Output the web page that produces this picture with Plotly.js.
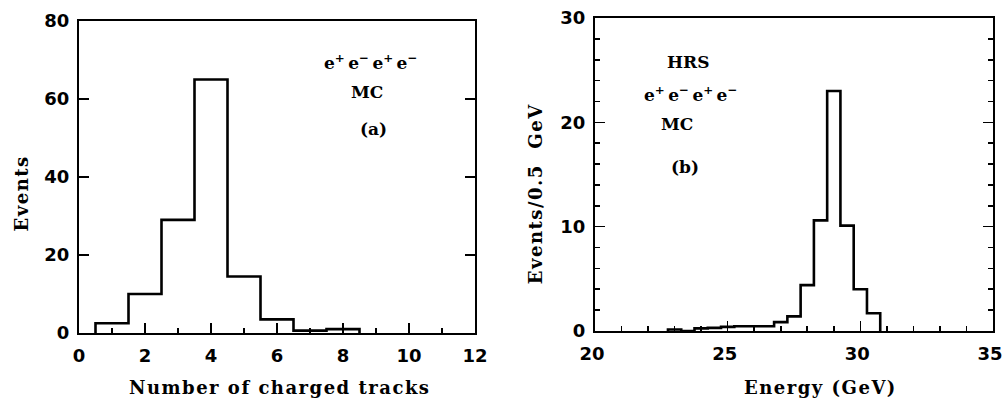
<!DOCTYPE html>
<html>
<head>
<meta charset="utf-8">
<script src="https://cdn.plot.ly/plotly-3.0.1.min.js"></script>
<style>
html,body{margin:0;padding:0;background:#fff;}
#chart{width:1004px;height:399px;}
#chart .annotation[data-index="7"] text,
#chart .annotation[data-index="8"] text,
#chart .annotation[data-index="9"] text,
#chart .annotation[data-index="10"] text { letter-spacing: 1.5px; }
</style>
</head>
<body>
<div id="chart"></div>
<script>
// Panel (a): number of charged tracks
const tracksCenters = [1, 2, 3, 4, 5, 6, 7, 8];
const tracksEvents  = [2.5, 10, 29, 65, 14.5, 3.5, 0.6, 1.0];
const tracksBinWidth = 1;

// Panel (b): energy (GeV), 0.5 GeV bins
const energyCenters = [23.0, 23.5, 24.0, 24.5, 25.0, 25.5, 26.0, 26.5, 27.0, 27.5, 28.0, 28.5, 29.0, 29.5, 30.0, 30.5];
const energyEvents  = [0.15, 0.0, 0.25, 0.3, 0.4, 0.45, 0.45, 0.45, 0.85, 1.4, 4.4, 10.6, 23, 10.1, 4.0, 1.7];
const energyBinWidth = 0.5;

// Axis titles
const titleA_x = 'Number of charged tracks';
const titleA_y = 'Events';
const titleB_x = 'Energy (GeV)';
const titleB_y = 'Events/0.5\u00a0\u00a0GeV';

function stepLine(centers, values, w) {
  const x = [centers[0] - w / 2];
  const y = [0];
  centers.forEach((c, i) => { x.push(c - w / 2); y.push(values[i]); });
  x.push(centers[centers.length - 1] + w / 2); y.push(0);
  return {x, y};
}

const a = stepLine(tracksCenters, tracksEvents, tracksBinWidth);
const b = stepLine(energyCenters, energyEvents, energyBinWidth);

const lineStyle = {color: '#000', width: 2.6, shape: 'hv'};
const traces = [
  {x: a.x, y: a.y, xaxis: 'x', yaxis: 'y', type: 'scatter', mode: 'lines', line: lineStyle, hoverinfo: 'skip', cliponaxis: false},
  {x: b.x, y: b.y, xaxis: 'x2', yaxis: 'y2', type: 'scatter', mode: 'lines', line: lineStyle, hoverinfo: 'skip', cliponaxis: false}
];

const tickFont = {family: 'DejaVu Sans', size: 18, color: '#000', weight: 'bold'};
const titleFont = {family: 'DejaVu Serif', size: 18, color: '#000', weight: 'bold'};
const annFont = {family: 'DejaVu Serif', size: 17, color: '#000', weight: 'bold'};

const W = 1004, H = 399;
const axBase = {showgrid: false, zeroline: false, showline: true, linecolor: '#000', linewidth: 2.2,
  ticks: 'inside', tickcolor: '#000', tickwidth: 1.6, tickfont: tickFont, fixedrange: true,
  ticklabeloverflow: 'allow'};

const ee = 'e<sup>+</sup>\u2009e<sup>\u2212</sup>\u2009e<sup>+</sup>\u2009e<sup>\u2212</sup>';
function ann(x, y, text, font, angle) {
  return {xref: 'paper', yref: 'paper', x: x / W, y: 1 - y / H, text: text, showarrow: false,
          xanchor: 'center', yanchor: 'middle', font: font || annFont, textangle: angle || 0};
}

const layout = {
  width: W, height: H,
  margin: {l: 0, r: 0, t: 0, b: 0},
  paper_bgcolor: '#fff', plot_bgcolor: '#fff',
  showlegend: false,
  xaxis: Object.assign({}, axBase, {
    domain: [79 / W, 475 / W], range: [0, 12], tickvals: [0, 2, 4, 6, 8, 10, 12], ticklen: 10, mirror: true,
    minor: {dtick: 1, tick0: 0, ticklen: 5, ticks: 'inside', tickcolor: '#000', tickwidth: 1.6},
    anchor: 'y', ticklabelstandoff: 5
  }),
  yaxis: Object.assign({}, axBase, {
    domain: [66 / H, 378 / H], range: [0, 80], dtick: 20, tick0: 0, ticklen: 10, mirror: 'ticks',
    anchor: 'x', ticklabelstandoff: 4
  }),
  xaxis2: Object.assign({}, axBase, {
    domain: [595 / W, 993 / W], range: [20, 35], tickvals: [20, 25, 30, 35], ticklen: 10, mirror: true,
    minor: {dtick: 1, tick0: 20, ticklen: 5, ticks: 'inside', tickcolor: '#000', tickwidth: 1.6},
    anchor: 'y2', ticklabelstandoff: 5, ticklabelshift: -3
  }),
  yaxis2: Object.assign({}, axBase, {
    domain: [68 / H, 381 / H], range: [0, 30], dtick: 10, tick0: 0, ticklen: 10, mirror: 'ticks',
    minor: {dtick: 2, tick0: 0, ticklen: 5, ticks: 'inside', tickcolor: '#000', tickwidth: 1.6},
    anchor: 'x2', ticklabelstandoff: 4
  }),
  annotations: [
    ann(370, 62, ee),
    ann(367, 92, 'MC'),
    ann(373, 129, '(a)'),
    ann(688, 62, 'HRS'),
    ann(690, 94, ee),
    ann(677, 124, 'MC'),
    ann(685, 167, '(b)'),
    ann(280, 387, titleA_x, titleFont),
    ann(21, 194, titleA_y, titleFont, -90),
    ann(820, 387, titleB_x, titleFont),
    ann(535, 194, titleB_y, titleFont, -90)
  ]
};

Plotly.newPlot('chart', traces, layout, {staticPlot: true, displayModeBar: false});
</script>
</body>
</html>
